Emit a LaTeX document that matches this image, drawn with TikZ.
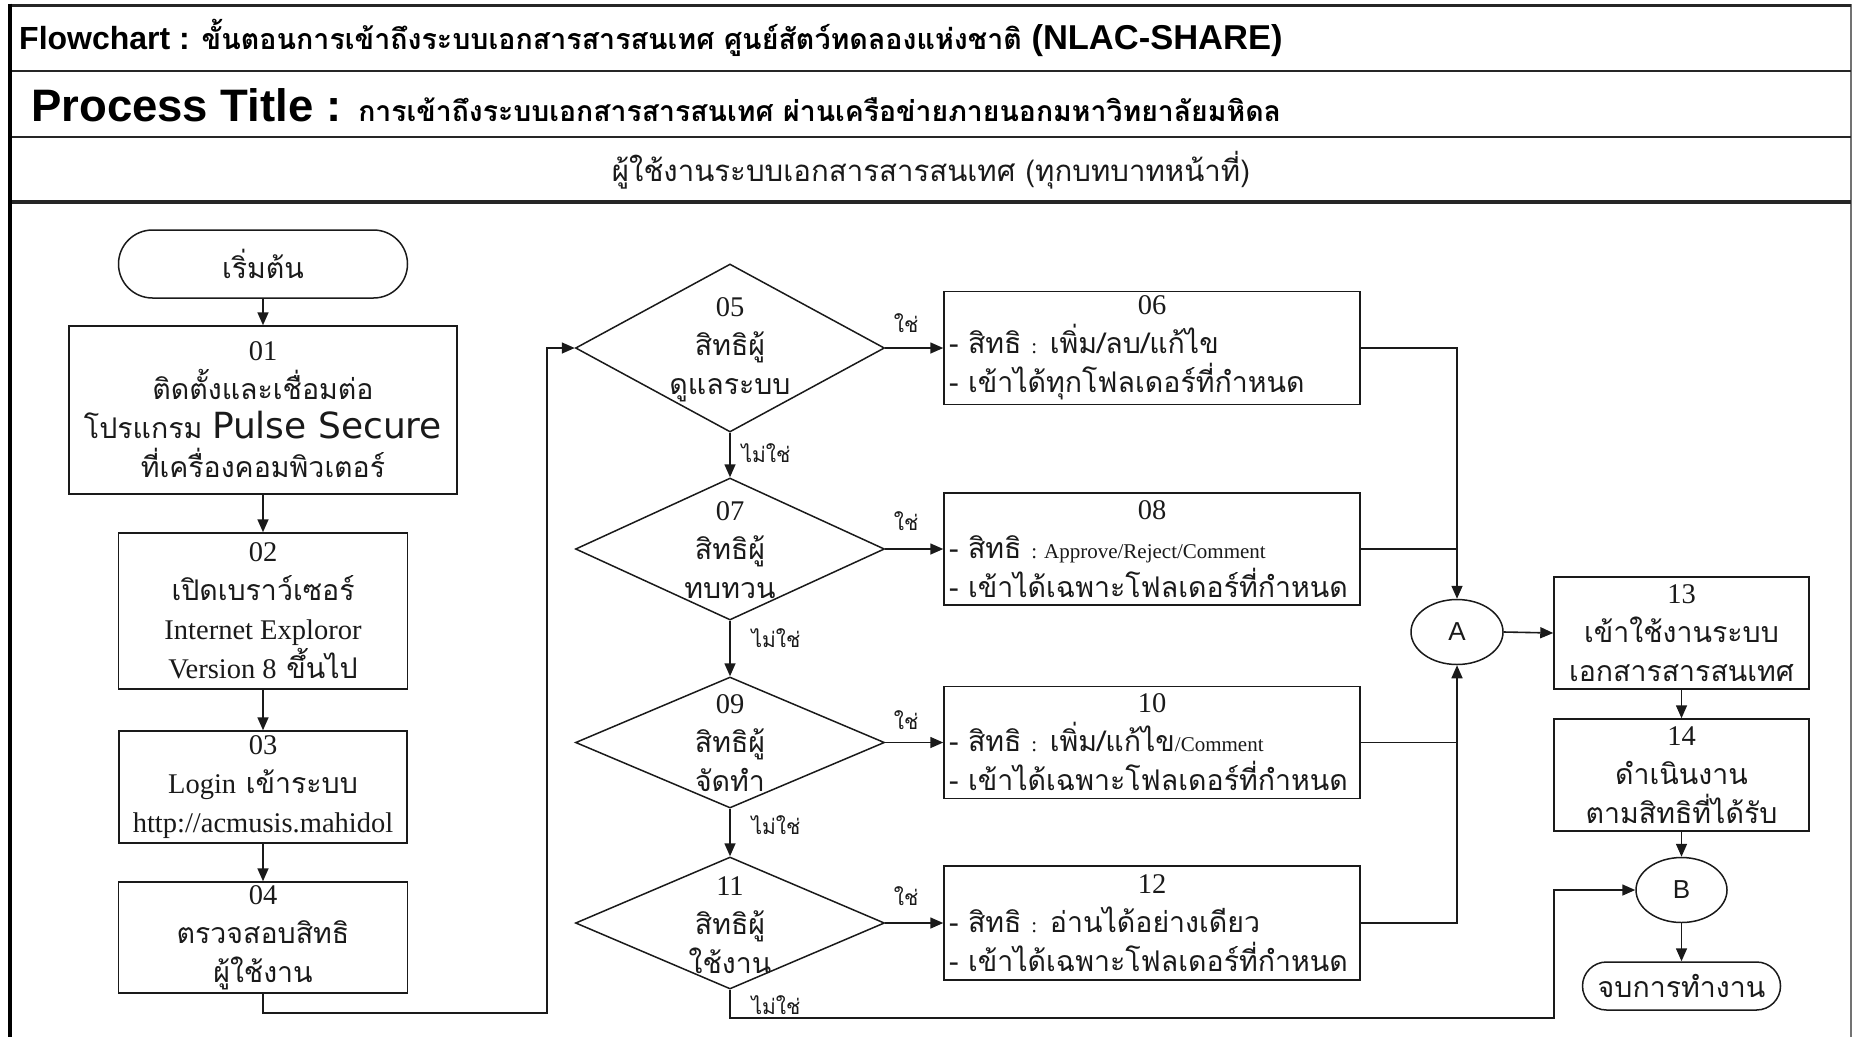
\documentclass[tikz,border=0pt]{standalone}
\usepackage{fontspec}
\setmainfont{Liberation Serif}
\newfontfamily\thai[Script=Thai]{Loma}
\newfontfamily\arialf{Liberation Sans}
\newfontfamily\dvs{DejaVu Sans}
\usetikzlibrary{shapes.geometric,arrows.meta}
\newcommand\lat[1]{{\rmfamily #1}}
\newcommand\bodysize{\fontsize{28.5}{39}\selectfont}
\newcommand\smallsz{\fontsize{21}{26}\selectfont}
\newcommand\latsmall{\rmfamily\fontsize{21}{24}\selectfont}
\definecolor{ink}{HTML}{1A1A1A}
\begin{document}
\begin{tikzpicture}[x=1pt,y=-1pt,
 line/.style={draw=ink, line width=1.6pt},
 conn/.style={line, -{Triangle[length=13pt,width=11pt]}},
 box/.style={draw=ink, line width=1.5pt, rectangle, inner sep=0pt, align=center, font=\thai\bodysize, text=ink},
 rbox/.style={box, align=left, inner xsep=5pt, inner ysep=0pt, minimum width=416pt},
 dia/.style={diamond, draw=ink, line width=1.5pt, minimum width=309pt, inner sep=0pt},
 dtxt/.style={align=center, font=\thai\bodysize, text=ink, inner sep=0pt},
 lbl/.style={font=\thai\smallsz, text=ink, inner sep=0pt},
 conc/.style={ellipse, draw=ink, line width=1.5pt, inner sep=0pt, font=\arialf\fontsize{26}{30}\selectfont, text=ink},
 ttl/.style={anchor=west, inner sep=0pt, text=black},
]
\useasboundingbox (0,0) rectangle (1854,1037);
\fill[white] (0,0) rectangle (1854,1037);
% frame
\draw[black!55, line width=1.5pt] (1851,4) -- (1851,1037);
\draw[black!85, line width=3pt] (10,5) -- (1851,5);
\draw[black!85, line width=2.5pt] (10,71) -- (1851,71);
\draw[black!85, line width=2.5pt] (10,137) -- (1851,137);
\draw[black!85, line width=3.5pt] (10,202) -- (1851,202);
\draw[black, line width=4pt] (10,3.5) -- (10,1037);

% headers
\node[ttl] (t1) at (19,38) {{\arialf\bfseries\fontsize{32}{36}\selectfont Flowchart : }{\thai\bfseries\fontsize{28.6}{36}\selectfont ขั้นตอนการเข้าถึงระบบเอกสารสารสนเทศ ศูนย์สัตว์ทดลองแห่งชาติ }{\arialf\bfseries\fontsize{34.5}{36}\selectfont (NLAC-SHARE)}};
\node[ttl] (t2) at (31,105) {{\arialf\bfseries\fontsize{45.5}{48}\selectfont Process Title : }{\thai\bfseries\fontsize{28.4}{36}\selectfont การเข้าถึงระบบเอกสารสารสนเทศ ผ่านเครือข่ายภายนอกมหาวิทยาลัยมหิดล}};
\node[inner sep=0pt, font=\thai\fontsize{29.4}{36}\selectfont, text=ink] (lane) at (931,170) {ผู้ใช้งานระบบเอกสารสารสนเทศ (ทุกบทบาทหน้าที่)};

% left column
\node[box, rounded corners=34pt, minimum width=289pt, minimum height=68pt] (start) at (263,264) {เริ่มต้น};
\node[box, minimum width=388pt, minimum height=168pt] (b01) at (263,410) {\lat{01}\\ติดตั้งและเชื่อมต่อ\\โปรแกรม {\dvs\fontsize{36}{39}\selectfont Pulse Secure}\\ที่เครื่องคอมพิวเตอร์};
\node[box, minimum width=289pt, minimum height=156pt] (b02) at (263,611) {\lat{02}\\เปิดเบราว์เซอร์\\\lat{Internet Exploror}\\\lat{Version 8} ขึ้นไป};
\node[box, minimum width=288pt, minimum height=112pt] (b03) at (263,787) {\lat{03}\\\lat{Login} เข้าระบบ\\\lat{http://acmusis.mahidol}};
\node[box, minimum width=289pt, minimum height=111pt] (b04) at (263,937.5) {\lat{04}\\ตรวจสอบสิทธิ\\ผู้ใช้งาน};

% diamonds
\node[dia, minimum height=168pt] (d05) at (730,348) {};
\node[dtxt] (d05t) at (730,350) {\lat{05}\\สิทธิผู้\\ดูแลระบบ};
\node[dia, minimum height=142pt] (d07) at (730,549) {};
\node[dtxt] (d07t) at (730,550) {\lat{07}\\สิทธิผู้\\ทบทวน};
\node[dia, minimum height=131pt] (d09) at (730,742.5) {};
\node[dtxt] (d09t) at (730,743) {\lat{09}\\สิทธิผู้\\จัดทำ};
\node[dia, minimum height=132pt] (d11) at (730,923) {};
\node[dtxt] (d11t) at (730,925) {\lat{11}\\สิทธิผู้\\ใช้งาน};

% right boxes
\node[rbox, minimum height=113pt] (b06) at (1152,348) {\makebox[406pt]{\lat{06}}\\- สิทธิ {\latsmall :} เพิ่ม/ลบ/แก้ไข\\- เข้าได้ทุกโฟลเดอร์ที่กำหนด};
\node[rbox, minimum height=112pt] (b08) at (1152,549) {\makebox[406pt]{\lat{08}}\\- สิทธิ {\latsmall : Approve/Reject/Comment}\\- เข้าได้เฉพาะโฟลเดอร์ที่กำหนด};
\node[rbox, minimum height=112pt] (b10) at (1152,742.5) {\makebox[406pt]{\lat{10}}\\- สิทธิ {\latsmall :} เพิ่ม/แก้ไข{\latsmall /Comment}\\- เข้าได้เฉพาะโฟลเดอร์ที่กำหนด};
\node[rbox, minimum height=114pt] (b12) at (1152,923) {\makebox[406pt]{\lat{12}}\\- สิทธิ {\latsmall :} อ่านได้อย่างเดียว\\- เข้าได้เฉพาะโฟลเดอร์ที่กำหนด};

% connectors and right column
\node[conc, minimum width=92pt, minimum height=65pt] (A) at (1457,632) {A};
\node[box, minimum width=255pt, minimum height=112pt] (b13) at (1681.5,633) {\lat{13}\\เข้าใช้งานระบบ\\เอกสารสารสนเทศ};
\node[box, minimum width=255pt, minimum height=112pt] (b14) at (1681.5,775) {\lat{14}\\ดำเนินงาน\\ตามสิทธิที่ได้รับ};
\node[conc, minimum width=91pt, minimum height=65pt] (B) at (1681.5,890) {B};
\node[box, rounded corners=24pt, minimum width=198pt, minimum height=48pt] (fin) at (1681.5,986) {จบการทำงาน};

% labels
\node[lbl] (y05) at (906,323) {ใช่};
\node[lbl] (y07) at (906,521) {ใช่};
\node[lbl] (y09) at (906,720) {ใช่};
\node[lbl] (y11) at (906,896) {ใช่};
\node[lbl] (n05) at (766,453) {ไม่ใช่};
\node[lbl] (n07) at (776,638) {ไม่ใช่};
\node[lbl] (n09) at (776,825) {ไม่ใช่};
\node[lbl] (n11) at (776,1005) {ไม่ใช่};

% edges
\draw[conn] (start.south) -- (b01.north);
\draw[conn] (b01.south) -- (b02.north);
\draw[conn] (b02.south) -- (b03.north);
\draw[conn] (b03.south) -- (b04.north);
\coordinate (k1) at (547,1013);
\draw[conn] (b04.south) |- (k1) |- (d05.west);
\draw[conn] (d05.south) -- (d07.north);
\draw[conn] (d07.south) -- (d09.north);
\draw[conn] (d09.south) -- (d11.north);
\draw[conn] (d05.east) -- (d05.east -| b06.west);
\draw[conn] (d07.east) -- (d07.east -| b08.west);
\draw[conn] (d09.east) -- (d09.east -| b10.west);
\draw[conn] (d11.east) -- (d11.east -| b12.west);
\draw[conn] (b06.east) -| (A.north);
\draw[line] (b08.east) -- (b08.east -| A.north);
\draw[line] (b10.east) -- (b10.east -| A.south);
\draw[conn] (b12.east) -| (A.south);
\draw[conn] (A.east) -- (b13.west);
\draw[conn] (b13.south) -- (b14.north);
\draw[conn] (b14.south) -- (B.north);
\draw[conn] (B.south) -- (fin.north);
\coordinate (k2) at (1554,1018);
\draw[conn] (d11.south) |- (k2) |- (B.west);
\end{tikzpicture}
\end{document}
